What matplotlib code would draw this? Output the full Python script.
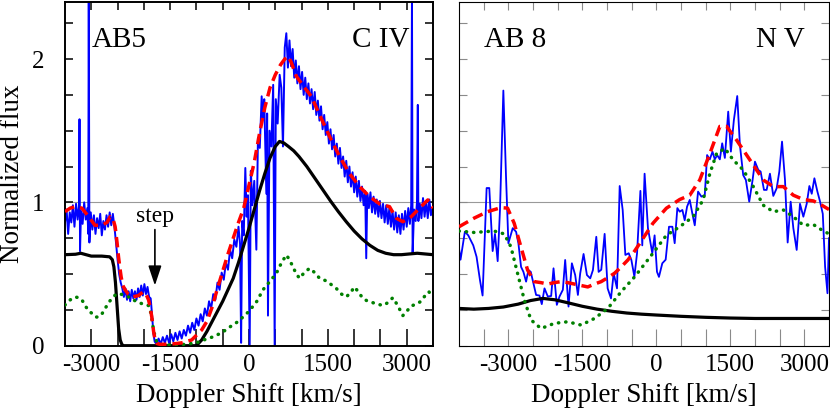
import matplotlib
matplotlib.use('Agg')
import matplotlib.pyplot as plt
import numpy as np

plt.rcParams['font.family'] = ['Liberation Serif', 'DejaVu Serif']

# ---------------- Left panel (AB5, C IV) ----------------
obs_L_v = [-3500, -3470, -3440, -3410, -3380, -3350, -3320, -3290, -3260, -3235,
           -3224, -3214, -3195, -3165, -3135, -3105, -3075, -3058, -3048, -3036,
           -3010, -2980, -2950, -2920, -2890, -2860, -2830, -2800, -2770, -2740,
           -2710, -2680, -2650, -2620, -2590, -2560, -2530, -2500, -2470, -2440,
           -2410, -2380, -2350, -2320, -2290, -2260, -2230, -2200, -2170, -2140,
           -2110, -2080, -2050, -2020, -1990, -1960, -1930, -1900, -1870, -1845,
           -1820, -1795, -1760, -1720, -1680, -1640, -1600, -1560, -1520, -1480,
           -1440, -1400, -1360, -1320, -1280, -1240, -1200, -1160, -1120, -1080,
           -1040, -1000, -960, -920, -880, -840, -800, -760, -720, -680,
           -640, -600, -560, -520, -480, -440, -400, -360, -320, -280,
           -240, -200, -170, -150, -130, -100, -70, -45, -20, 13,
           35, 65, 100, 140, 170, 205, 241, 265, 290, 330,
           345, 361, 390, 425, 460, 488, 510, 545, 583, 615,
           646, 680, 710, 740, 770, 800, 830, 860, 890, 920,
           950, 980, 1010, 1040, 1070, 1100, 1130, 1160, 1190, 1220,
           1250, 1280, 1310, 1340, 1370, 1400, 1430, 1460, 1490, 1520,
           1550, 1580, 1610, 1640, 1670, 1700, 1730, 1760, 1790, 1820,
           1850, 1880, 1910, 1940, 1970, 2000, 2030, 2060, 2090, 2120,
           2150, 2180, 2210, 2230, 2250, 2280, 2310, 2340, 2370, 2400,
           2430, 2460, 2490, 2520, 2550, 2580, 2610, 2640, 2670, 2700,
           2730, 2760, 2790, 2820, 2850, 2880, 2910, 2940, 2970, 3000,
           3030, 3060, 3085, 3100, 3112, 3140, 3170, 3195, 3211, 3222,
           3250, 3280, 3310, 3340, 3370, 3400, 3430, 3460, 3500]
obs_L_f = [0.86, 0.95, 0.78, 0.93, 0.86, 0.98, 0.83, 0.99, 0.88, 0.97,
           1.58, 0.66, 0.94, 0.85, 1.00, 0.88, 0.96, 0.78, 2.45, 0.72,
           0.93, 0.81, 0.91, 0.78, 0.89, 0.82, 0.92, 0.77, 0.87, 0.81,
           0.91, 0.83, 0.93, 0.84, 0.92, 0.83, 0.72, 0.60, 0.50, 0.44,
           0.40, 0.34, 0.40, 0.32, 0.38, 0.31, 0.39, 0.33, 0.38, 0.32,
           0.40, 0.34, 0.42, 0.35, 0.43, 0.36, 0.41, 0.34, 0.33, 0.22,
           0.09, 0.03, 0.01, 0.05, 0.01, 0.06, 0.02, 0.07, 0.02, 0.08,
           0.03, 0.09, 0.04, 0.10, 0.05, 0.11, 0.07, 0.14, 0.09, 0.16,
           0.11, 0.19, 0.14, 0.22, 0.17, 0.26, 0.21, 0.31, 0.26, 0.36,
           0.32, 0.44, 0.39, 0.51, 0.46, 0.58, 0.53, 0.67, 0.61, 0.74,
           0.69, 0.83, 0.71, 0.02, 0.87, 0.77, 1.24, 0.90, 1.05, 0.00,
           1.22, 0.98, 1.15, 0.67, 1.45, 1.38, 1.74, 1.58, 1.72, 1.06,
           1.62, 0.21, 1.50, 1.39, 1.82, 0.00, 1.72, 1.55, 1.89, 1.80,
           1.39, 2.08, 2.18, 1.94, 2.13, 1.95, 2.07, 1.87, 1.99, 1.83,
           1.95, 1.79, 1.91, 1.75, 1.87, 1.72, 1.83, 1.69, 1.79, 1.65,
           1.77, 1.61, 1.71, 1.57, 1.67, 1.51, 1.61, 1.47, 1.56, 1.41,
           1.51, 1.37, 1.47, 1.32, 1.41, 1.27, 1.38, 1.24, 1.32, 1.18,
           1.29, 1.14, 1.25, 1.11, 1.21, 1.07, 1.18, 1.04, 1.15, 1.01,
           1.11, 0.98, 1.08, 0.61, 1.06, 0.96, 1.07, 0.93, 1.04, 0.92,
           1.02, 0.90, 1.01, 0.89, 0.99, 0.86, 0.98, 0.85, 0.96, 0.83,
           0.94, 0.81, 0.93, 0.79, 0.91, 0.78, 0.92, 0.81, 0.94, 0.83,
           0.96, 0.85, 0.98, 2.45, 0.64, 0.95, 0.87, 1.00, 1.68, 0.87,
           0.99, 0.89, 1.03, 0.90, 1.01, 0.89, 1.02, 0.91, 0.97]

model_L_v = [-3500, -3400, -3300, -3180, -3050, -2930, -2800, -2700, -2640, -2590,
             -2546, -2510, -2482, -2455, -2432, -2400, -2356, -2300, -2229, -2160,
             -2102, -2050, -2007, -1960, -1911, -1880, -1849, -1815, -1786, -1750,
             -1700, -1500, -1280, -1090, -900, -800, -700, -600, -500, -400,
             -300, -200, -100, 0, 100, 200, 300, 400, 500, 600,
             680, 742, 800, 900, 1058, 1185, 1343, 1533, 1723, 1913,
             2103, 2293, 2483, 2673, 2800, 2926, 3085, 3243, 3401, 3500]
model_L_f = [0.935, 0.96, 0.97, 0.96, 0.90, 0.84, 0.84, 0.86, 0.90, 0.89,
             0.83, 0.72, 0.62, 0.54, 0.48, 0.42, 0.39, 0.36, 0.34, 0.345,
             0.35, 0.365, 0.377, 0.36, 0.32, 0.27, 0.20, 0.10, 0.04, 0.015,
             0.01, 0.01, 0.02, 0.04, 0.11, 0.17, 0.27, 0.40, 0.52, 0.64,
             0.75, 0.86, 0.96, 1.12, 1.28, 1.48, 1.66, 1.80, 1.89, 1.96,
             2.00, 2.02, 1.98, 1.88, 1.80, 1.74, 1.61, 1.46, 1.32, 1.20,
             1.11, 1.04, 0.99, 0.97, 0.89, 0.865, 0.90, 0.96, 1.017, 0.96]

black_L_v = [-3500, -3300, -3200, -3100, -3000, -2800, -2650, -2600, -2570, -2540,
             -2510, -2480, -2450, -2420, -2390, -2300, -1000, -900, -800, -700,
             -600, -500, -400, -300, -200, -100, 0, 100, 200, 300,
             400, 500, 580, 660, 750, 850, 950, 1100, 1250, 1400,
             1550, 1700, 1850, 2000, 2150, 2300, 2450, 2600, 2750, 2900,
             3050, 3200, 3350, 3500]
black_L_f = [0.635, 0.638, 0.645, 0.635, 0.625, 0.625, 0.62, 0.60, 0.55, 0.44,
             0.28, 0.12, 0.04, 0.01, 0.0, 0.0, 0.0, 0.04, 0.10, 0.17,
             0.24, 0.31, 0.39, 0.47, 0.58, 0.70, 0.82, 0.95, 1.08, 1.20,
             1.31, 1.39, 1.425, 1.415, 1.39, 1.36, 1.32, 1.25, 1.17, 1.09,
             1.01, 0.935, 0.865, 0.80, 0.745, 0.70, 0.665, 0.645, 0.635, 0.635,
             0.64, 0.645, 0.64, 0.635]

green_L_v = [-3500, -3400, -3306, -3240, -3179, -3100, -3040, -2989, -2920, -2862,
             -2800, -2736, -2670, -2609, -2540, -2482, -2400, -2292, -2200, -2102,
             -2000, -1911, -1860, -1817, -1770, -1722, -1600, -1400, -1200, -1000,
             -900, -700, -519, -367, -202, 0, 150, 266, 400, 520,
             620, 710, 770, 836, 900, 963, 1050, 1153, 1250, 1343,
             1450, 1533, 1660, 1760, 1850, 1930, 2008, 2090, 2166, 2260,
             2356, 2450, 2546, 2640, 2736, 2830, 2926, 3000, 3085, 3180,
             3275, 3350, 3420, 3500]
green_L_f = [0.284, 0.32, 0.34, 0.335, 0.32, 0.27, 0.24, 0.226, 0.20, 0.20,
             0.22, 0.26, 0.30, 0.33, 0.355, 0.365, 0.355, 0.34, 0.32, 0.30,
             0.29, 0.28, 0.22, 0.11, 0.04, 0.01, 0.005, 0.005, 0.01, 0.02,
             0.035, 0.06, 0.09, 0.13, 0.17, 0.24, 0.31, 0.39, 0.45, 0.505,
             0.58, 0.633, 0.60, 0.55, 0.50, 0.47, 0.51, 0.54, 0.51, 0.47,
             0.455, 0.435, 0.40, 0.36, 0.34, 0.37, 0.41, 0.37, 0.33, 0.31,
             0.30, 0.29, 0.28, 0.30, 0.335, 0.28, 0.21, 0.24, 0.277, 0.29,
             0.31, 0.35, 0.377, 0.34]

# ---------------- Right panel (AB 8, N V) ----------------
obs_R_v = [-4000, -3969, -3881, -3813, -3711, -3644, -3576, -3522, -3440, -3386,
           -3318, -3271, -3216, -3169, -3101, -3047, -2999, -2911, -2843, -2796,
           -2742, -2694, -2640, -2593, -2545, -2491, -2437, -2369, -2322, -2267,
           -2200, -2132, -2084, -2017, -1963, -1895, -1848, -1780, -1712, -1645,
           -1590, -1543, -1475, -1407, -1340, -1285, -1217, -1170, -1116, -1048,
           -987, -919, -865, -797, -743, -682, -628, -560, -506, -445,
           -391, -323, -285, -238, -170, -82, -35, 13, 53, 121,
           189, 257, 325, 372, 426, 474, 528, 575, 623, 677,
           731, 779, 846, 914, 982, 1029, 1084, 1138, 1185, 1233,
           1287, 1335, 1389, 1457, 1511, 1572, 1640, 1694, 1761, 1815,
           1883, 1951, 1999, 2067, 2114, 2182, 2236, 2303, 2371, 2439,
           2493, 2548, 2608, 2662, 2723, 2777, 2845, 2912, 2980, 3048,
           3102, 3150, 3204, 3265, 3319, 3374, 3421, 3469, 3500]
obs_R_f = [0.68, 0.60, 0.795, 0.77, 0.70, 0.62, 0.46, 0.35, 1.10, 1.10,
           0.66, 0.78, 0.59, 0.95, 1.78, 1.18, 0.715, 0.82, 0.795, 0.715,
           0.55, 0.515, 0.447, 0.528, 0.515, 0.435, 0.354, 0.35, 0.29, 0.40,
           0.343, 0.347, 0.54, 0.285, 0.343, 0.39, 0.598, 0.273, 0.575, 0.493,
           0.354, 0.505, 0.64, 0.493, 0.47, 0.528, 0.76, 0.515, 0.53, 0.78,
           0.40, 0.33, 0.505, 0.40, 1.114, 0.947, 0.633, 0.645, 0.598, 0.482,
           0.645, 1.08, 0.70, 1.20, 0.82, 0.645, 0.77, 0.516, 0.48, 0.575,
           0.60, 0.83, 0.83, 0.715, 0.96, 0.935, 0.947, 0.875, 0.97, 1.017,
           0.92, 0.84, 1.075, 1.04, 1.05, 1.33, 1.30, 1.354, 1.30, 1.33,
           1.30, 1.412, 1.31, 1.633, 1.354, 1.575, 1.742, 1.40, 1.19, 1.156,
           1.005, 1.156, 1.284, 1.226, 1.215, 1.087, 1.087, 1.20, 1.045, 1.098,
           1.215, 1.424, 1.156, 0.72, 1.005, 0.82, 0.668, 0.99, 0.90, 0.99,
           1.114, 1.06, 1.168, 1.075, 1.005, 0.92, 0.55, 0.366, 0.75]

model_R_v = [-4000, -3694, -3423, -3152, -3016, -2881, -2745, -2610, -2474, -2338,
             -2203, -2067, -1931, -1796, -1661, -1525, -1390, -1254, -1118, -983,
             -848, -712, -577, -441, -305, -69, 203, 474, 677, 880,
             1084, 1287, 1423, 1626, 1897, 2168, 2371, 2574, 2777, 2980,
             3184, 3355, 3500]
model_R_f = [0.83, 0.89, 0.935, 0.963, 0.96, 0.854, 0.69, 0.528, 0.447, 0.44,
             0.43, 0.44, 0.447, 0.44, 0.43, 0.42, 0.41, 0.43, 0.447, 0.475,
             0.505, 0.55, 0.598, 0.66, 0.73, 0.854, 0.959, 1.02, 1.05, 1.156,
             1.34, 1.53, 1.53, 1.435, 1.296, 1.156, 1.11, 1.11, 1.05, 1.02,
             1.01, 0.98, 0.95]

black_R_v = [-4000, -3700, -3400, -3100, -2800, -2550, -2300, -2050, -1800, -1500,
             -1200, -900, -600, -300, 0, 500, 1000, 1500, 2000, 3500]
black_R_f = [0.26, 0.255, 0.26, 0.27, 0.29, 0.315, 0.33, 0.32, 0.30, 0.275,
             0.255, 0.24, 0.228, 0.22, 0.214, 0.205, 0.198, 0.193, 0.19, 0.19]

green_R_v = [-4000, -3694, -3287, -3084, -2948, -2813, -2677, -2541, -2338, -2067,
             -1797, -1525, -1254, -984, -712, -441, -238, -69, 203, 474,
             745, 948, 1084, 1220, 1389, 1558, 1761, 1965, 2168, 2371,
             2574, 2777, 2980, 3184, 3355, 3500]
green_R_f = [0.80, 0.79, 0.80, 0.78, 0.69, 0.505, 0.32, 0.18, 0.12, 0.156,
             0.167, 0.144, 0.19, 0.26, 0.377, 0.48, 0.57, 0.645, 0.77, 0.83,
             0.90, 1.017, 1.20, 1.34, 1.377, 1.296, 1.226, 1.11, 0.98, 0.935,
             0.947, 0.90, 0.84, 0.845, 0.807, 0.78]

# ---------------- Axis ticks / labels ----------------
xticks_L = [-3000, -2500, -2000, -1500, -1000, -500, 0, 500, 1000, 1500, 2000, 2500, 3000]
xticks_R = [-3500, -3000, -2500, -2000, -1500, -1000, -500, 0, 500, 1000, 1500, 2000, 2500, 3000]
xlabel_values = [-3000, -1500, 0, 1500, 3000]
yticks = [0, 0.25, 0.5, 0.75, 1.0, 1.25, 1.5, 1.75, 2.0, 2.25]
ylabel_values = [0, 1, 2]

fig = plt.figure(figsize=(8.3, 4.17), dpi=100)
W, H = 830.0, 417.0
axL = fig.add_axes([65 / W, 1 - 345.7 / H, 368 / W, 344 / H])
axR = fig.add_axes([459 / W, 1 - 345.7 / H, 370 / W, 344 / H])


def style(ax, xlim, xticks, tick_color, spine_lw, tick_lw, ylabels_on):
    ax.set_xlim(*xlim)
    ax.set_ylim(0, 2.4)
    ax.set_xticks(xticks)
    ax.set_xticks(xticks, minor=True)
    ax.xaxis.remove_overlapping_locs = False
    ax.set_xticklabels([('-' if t < 0 else '') + str(abs(t)) if t in xlabel_values else ''
                        for t in xticks])
    ax.set_xticklabels([], minor=True)
    ax.set_yticks(yticks)
    ax.set_yticklabels([str(int(t)) if (ylabels_on and t in ylabel_values) else ''
                        for t in yticks])
    ax.tick_params(axis='x', which='major', direction='in', length=12, width=tick_lw,
                   color=tick_color, top=False, bottom=True, labelsize=18, pad=6)
    ax.tick_params(axis='x', which='minor', direction='in', length=5.8, width=tick_lw,
                   color=tick_color, top=True, bottom=False)
    ax.tick_params(axis='y', which='major', direction='in', length=5.8, width=tick_lw,
                   color=tick_color, left=True, right=True, labelsize=18, pad=15)
    for s in ax.spines.values():
        s.set_linewidth(spine_lw)
        s.set_color('black')
    ax.axhline(1.0, color='#999999', lw=0.8, zorder=1)
    ax.set_xlabel('Doppler Shift [km/s]', fontsize=19.5, labelpad=5)


style(axL, (-3500, 3500), xticks_L, 'black', 1.4, 1.1, True)
style(axR, (-4000, 3500), xticks_R, '#8a8a8a', 0.8, 0.8, False)

axL.set_ylabel('Normalized flux', fontsize=19.5)
axL.yaxis.set_label_coords(-0.11, 0.5)

# Lines
for ax, ov, of, bv, bf, gv, gf, mv, mf, blw in [
        (axL, obs_L_v, obs_L_f, black_L_v, black_L_f, green_L_v, green_L_f, model_L_v, model_L_f, 1.4),
        (axR, obs_R_v, obs_R_f, black_R_v, black_R_f, green_R_v, green_R_f, model_R_v, model_R_f, 1.3)]:
    ax.plot(ov, of, color='#0000ff', lw=blw, zorder=2)
    ax.plot(bv, bf, color='black', lw=2.3, zorder=3, solid_capstyle='round')
    ax.plot(gv, gf, color='#008000', lw=2.5, zorder=4, linestyle=(0, (0.1, 2.0)),
            dash_capstyle='round')
    ax.plot(mv, mf, color='#ff0000', lw=2.5, zorder=5, linestyle=(0, (3.0, 1.7)))

# Annotations
axL.text(-2990, 2.084, 'AB5', fontsize=21, ha='left', va='baseline')
axL.text(3050, 2.084, 'C IV', fontsize=21, ha='right', va='baseline')
axR.text(-3490, 2.084, 'AB 8', fontsize=21, ha='left', va='baseline')
axR.text(3015, 2.084, 'N V', fontsize=21, ha='right', va='baseline')

axL.text(-1797, 0.866, 'step', fontsize=17, ha='center', va='baseline')
axL.annotate('', xy=(-1790, 0.42), xytext=(-1790, 0.81),
             arrowprops=dict(arrowstyle='-|>,head_length=0.6,head_width=0.2',
                             color='black', lw=1.2, mutation_scale=20,
                             shrinkA=0, shrinkB=0))

fig.savefig('out.png', dpi=100)
